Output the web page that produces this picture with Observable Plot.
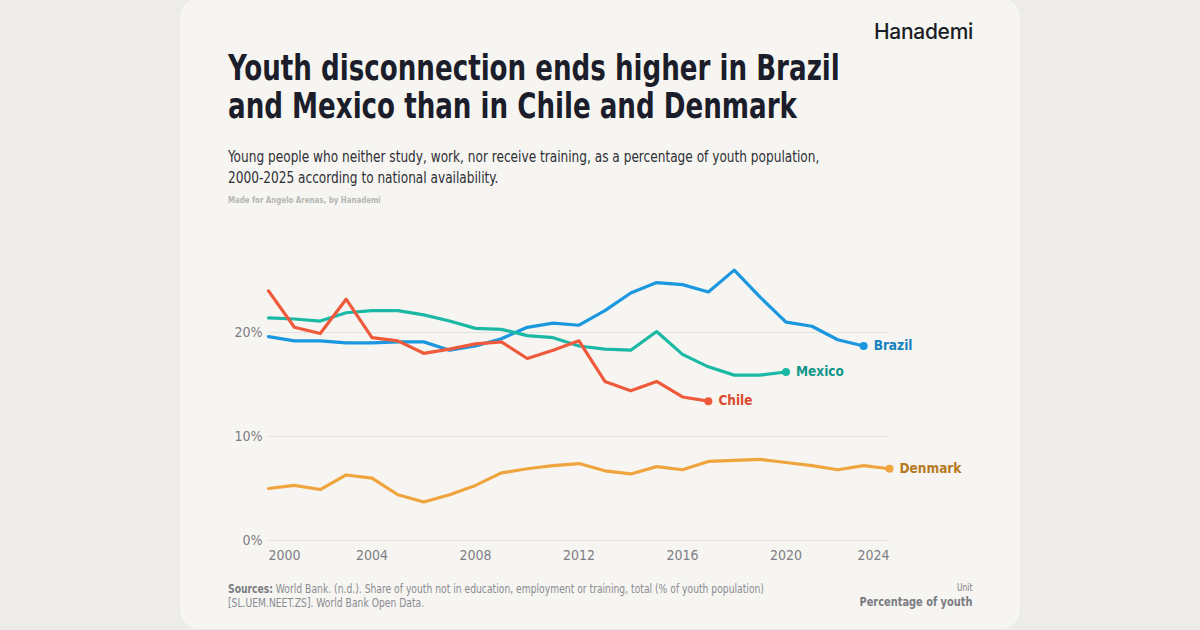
<!DOCTYPE html>
<html>
<head>
<meta charset="utf-8">
<script src="https://cdn.jsdelivr.net/npm/d3@7"></script>
<script src="https://cdn.jsdelivr.net/npm/@observablehq/plot@0.6"></script>
<style>
  html, body { margin: 0; padding: 0; width: 1200px; height: 630px; overflow: hidden; background: #edece8; }
  body { font-family: "DejaVu Sans Condensed", "DejaVu Sans", sans-serif; font-stretch: condensed; }
  #card { position: absolute; left: 180px; top: -2px; width: 840px; height: 631px; background: #f6f5f1; border-radius: 20px; }
  #logo { position: absolute; right: 47px; top: 21px; font-family: "Inter", "Roboto", sans-serif; font-size: 21px; font-weight: 500; color: #1b1d24; letter-spacing: -0.3px; }
  #title { position: absolute; left: 48px; top: 51px; font-size: 35px; line-height: 38px; font-weight: bold; color: #1b1d2a; margin: 0; white-space: nowrap; transform: scaleX(0.83); transform-origin: left top; }
  #subtitle { position: absolute; left: 48px; top: 149px; font-size: 15px; line-height: 21px; color: #2e2f36; white-space: nowrap; transform: scaleX(0.9); transform-origin: left top; }
  #made { position: absolute; left: 48px; top: 197px; font-size: 9px; color: #b5b5b5; font-weight: bold; white-space: nowrap; transform: scaleX(0.87); transform-origin: left top; }
  #chart { position: absolute; left: 0; top: 232px; }
  #source { position: absolute; left: 48px; top: 584px; font-size: 11.5px; line-height: 14px; color: #8a8b91; white-space: nowrap; transform: scaleX(0.89); transform-origin: left top; }
  #source b { color: #7a7b82; }
  #unit { position: absolute; right: 48px; top: 584px; text-align: right; color: #7a7b82; white-space: nowrap; transform: scaleX(0.84); transform-origin: right top; }
  #unit .u { font-size: 10px; line-height: 12px; }
  #unit .p { font-size: 13px; font-weight: bold; line-height: 16px; }
</style>
</head>
<body>
<div id="card">
  <div id="logo">Hanademi</div>
  <h1 id="title">Youth disconnection ends higher in Brazil<br>and Mexico than in Chile and Denmark</h1>
  <div id="subtitle">Young people who neither study, work, nor receive training, as a percentage of youth population,<br>2000-2025 according to national availability.</div>
  <div id="made">Made for Angelo Arenas, by Hanademi</div>
  <div id="chart"></div>
  <div id="source"><b>Sources:</b> World Bank. (n.d.). Share of youth not in education, employment or training, total (% of youth population)<br>[SL.UEM.NEET.ZS]. World Bank Open Data.</div>
  <div id="unit"><div class="u">Unit</div><div class="p">Percentage of youth</div></div>
</div>
<script>
const years = [2000, 2001, 2002, 2003, 2004, 2005, 2006, 2007, 2008, 2009, 2010, 2011, 2012,
               2013, 2014, 2015, 2016, 2017, 2018, 2019, 2020, 2021, 2022, 2023, 2024];
const brazil = [19.6, 19.2, 19.2, 19.0, 19.0, 19.1, 19.1, 18.3, 18.7, 19.4, 20.5, 20.9, 20.7,
                22.1, 23.8, 24.8, 24.6, 23.9, 26.0, 23.4, 21.0, 20.6, 19.3, 18.7];
const mexico = [21.4, 21.3, 21.1, 21.9, 22.1, 22.1, 21.7, 21.1, 20.4, 20.3, 19.7, 19.5, 18.7,
                18.4, 18.3, 20.1, 17.9, 16.7, 15.9, 15.9, 16.2];
const chile = [24.0, 20.5, 19.9, 23.2, 19.5, 19.2, 18.0, 18.4, 18.9, 19.1, 17.5, 18.3, 19.2,
               15.3, 14.4, 15.3, 13.8, 13.4];
const denmark = [5.0, 5.3, 4.9, 6.3, 6.0, 4.4, 3.7, 4.4, 5.3, 6.5, 6.9, 7.2, 7.4,
                 6.7, 6.4, 7.1, 6.8, 7.6, 7.7, 7.8, 7.5, 7.2, 6.8, 7.2, 6.9];
const countries = ["Brazil", "Mexico", "Chile", "Denmark"];
const lineColors = ["#1a97de", "#1cb8a6", "#ee5a3b", "#efa43d"];
const labelColors = ["#1480c0", "#11968a", "#dd4a2e", "#b57a1f"];
const yTicks = [0, 10, 20];
const xTicksMid = [2004, 2008, 2012, 2016, 2020];
const xTickFirst = [2000];
const xTickLast = [2024];

const series = [brazil, mexico, chile, denmark];
const rows = [];
series.forEach((vals, i) => vals.forEach((v, j) => rows.push({country: countries[i], year: years[j], value: v})));
const last = series.map((vals, i) => ({country: countries[i], year: years[vals.length - 1], value: vals[vals.length - 1]}));

const xAxisStyle = { tickFormat: d => String(d), tickSize: 0, tickPadding: 10, fontSize: 14, color: "#7d7e86", label: null };

const chart = Plot.plot({
  width: 840,
  height: 350,
  marginLeft: 88,
  marginRight: 131,
  marginTop: 39.6,
  marginBottom: 40,
  style: { background: "transparent", fontFamily: "'DejaVu Sans Condensed', 'DejaVu Sans', sans-serif" },
  x: { domain: [2000, 2024] },
  y: { domain: [0, 26] },
  color: { domain: countries, range: lineColors },
  marks: [
    Plot.ruleY(yTicks, { stroke: "#e4e2dc", strokeWidth: 1 }),
    Plot.axisY({ ticks: yTicks, tickFormat: d => d + "%", tickSize: 0, tickPadding: 6, fontSize: 14, color: "#7d7e86", label: null }),
    Plot.axisX({ ticks: xTicksMid, ...xAxisStyle }),
    Plot.axisX({ ticks: xTickFirst, ...xAxisStyle, textAnchor: "start" }),
    Plot.axisX({ ticks: xTickLast, ...xAxisStyle, textAnchor: "end" }),
    Plot.line(rows, { x: "year", y: "value", z: "country", stroke: "country", strokeWidth: 3.2, curve: "linear" }),
    Plot.dot(last, { x: "year", y: "value", fill: "country", r: 4 }),
    Plot.text(last, { x: "year", y: "value", text: "country", dx: 10, textAnchor: "start", fontWeight: "bold", fontSize: 13.5,
                      fill: d => labelColors[countries.indexOf(d.country)] })
  ]
});
document.getElementById("chart").appendChild(chart);
</script>
</body>
</html>
